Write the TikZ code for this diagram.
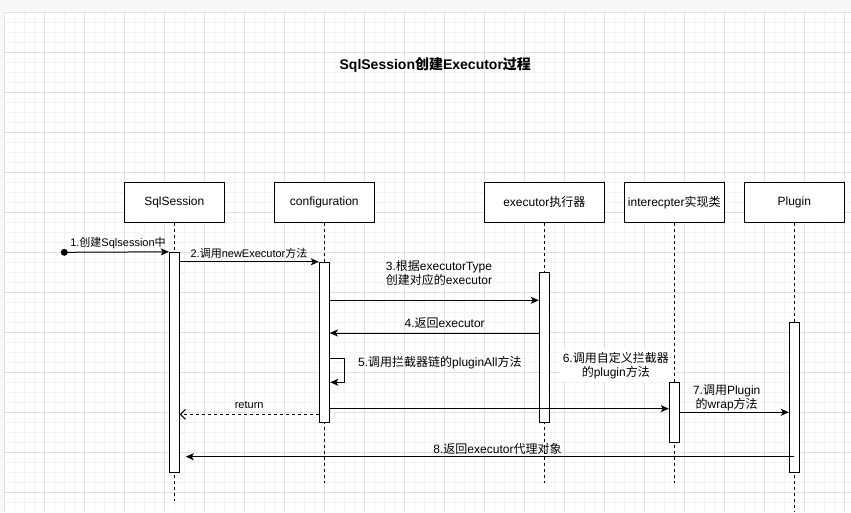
\documentclass[tikz,border=0pt]{standalone}
\usepackage{fontspec}
\setmainfont{Liberation Sans}
\newfontfamily\cjk{Noto Sans CJK SC}
\newcommand{\zh}[1]{{\cjk #1}}
\usetikzlibrary{arrows.meta}
\definecolor{gridmajor}{HTML}{E0E0E0}
\definecolor{gridminor}{HTML}{F2F2F2}
\definecolor{edgegray}{HTML}{F7F7F7}

\begin{document}
\begin{tikzpicture}[x=1pt,y=-1pt,
  head/.style={draw,line width=1pt,fill=white,minimum width=100pt,minimum height=40pt,inner sep=0pt,font=\fontsize{12}{14}\selectfont},
  bar/.style={draw,fill=white,line width=1pt,minimum width=10pt,inner sep=0pt},
  life/.style={line width=1pt,dash pattern=on 3pt off 3pt},
  msg/.style={line width=1pt,-{Stealth[length=8pt,width=7pt,inset=2pt]}},
  ret/.style={line width=1pt,dash pattern=on 3pt off 3pt,-{Straight Barb[length=5pt,width=10pt]}},
  lbl/.style={font=\fontsize{12}{14}\selectfont,inner sep=1pt,align=center},
  lblsmall/.style={lbl,font=\fontsize{11}{13}\selectfont}]
\useasboundingbox (0,0) rectangle (851,512);
% background grid
\fill[white] (0,0) rectangle (851,512);
\fill[edgegray] (0,0) rectangle (851,11);
\fill[edgegray] (0,0) rectangle (4,512);
\foreach \i in {0,...,84} \draw[gridminor,line width=1pt] (4.3+10*\i,12.3) -- (4.3+10*\i,512);
\foreach \j in {0,...,49} \draw[gridminor,line width=1pt] (4.3,12.3+10*\j) -- (851,12.3+10*\j);
\foreach \i in {0,...,21} \draw[gridmajor,line width=1pt] (4.3+40*\i,12.3) -- (4.3+40*\i,512);
\foreach \j in {0,...,12} \draw[gridmajor,line width=1pt] (4.3,12.3+40*\j) -- (851,12.3+40*\j);

\node[font=\fontsize{14}{16}\selectfont\bfseries] (title) at (435.3,65) {SqlSession\zh{创建}Executor\zh{过程}};

% lifelines
\node[head] (ss) at (174.3,202.3) {SqlSession};
\node[head] (cfg) at (324.3,202.3) {configuration};
\node[head,minimum width=120pt] (exe) at (544.3,202.3) {executor\zh{执行器}};
\node[head] (itc) at (674.3,202.3) {interecpter\zh{实现类}};
\node[head] (plg) at (794.3,202.3) {Plugin};
\coordinate (ssend) at (174.3,501);
\coordinate (cfgend) at (324.3,483);
\coordinate (exeend) at (544.3,483);
\coordinate (itcend) at (674.3,483);
\coordinate (plgend) at (794.3,512);
\draw[life] (ss) -- (ssend);
\draw[life] (cfg) -- (cfgend);
\draw[life] (exe) -- (exeend);
\draw[life] (itc) -- (itcend);
\draw[life] (plg) -- (plgend);

% activation bars
\node[bar,minimum height=220pt] (ssbar) at (174.3,362.3) {};
\node[bar,minimum height=160pt] (cfgbar) at (324.3,342.3) {};
\node[bar,minimum height=150pt] (exebar) at (544.3,347.3) {};
\node[bar,minimum height=60pt] (itcbar) at (674.3,412.3) {};
\node[bar,minimum height=150pt] (plgbar) at (794.3,397.3) {};

% messages
\node[circle,fill,inner sep=0pt,minimum size=7pt] (st) at (64.3,252.3) {};
\draw[msg] (st.center) -- (ssbar.north west);
\node[lblsmall] (l1) at (118,242.7) {1.\zh{创建}Sqlsession\zh{中}};

\draw[msg] (ssbar.east |- cfgbar.north) -- (cfgbar.north west);
\node[lblsmall] (l2) at (249,253.3) {2.\zh{调用}newExecutor\zh{方法}};

\draw[msg] (cfgbar.east |- 0,300.3) -- (exebar.west |- 0,300.3);
\node[lbl] (l3) at (439,273.4) {3.\zh{根据}executorType\\\zh{创建对应的}executor};

\draw[msg] (exebar.west |- 0,333) -- (cfgbar.east |- 0,333);
\node[lbl] (l4) at (444.7,322.7) {4.\zh{返回}executor};

\draw[msg] (cfgbar.east |- 0,358.3) -- (344.3,358.3) -- (344.3,382.3) -- (330.3,382.3);
\node[lbl,anchor=west] (l5) at (357,362.3) {5.\zh{调用拦截器链的}pluginAll\zh{方法}};

\draw[msg] (cfgbar.east |- 0,408.7) -- (itcbar.west |- 0,408.7);
\node[lbl,fill=white,inner sep=3pt] (l6) at (615.8,365.5) {6.\zh{调用自定义拦截器}\\\zh{的}plugin\zh{方法}};

\draw[msg] (itcbar.east |- 0,412.3) -- (plgbar.west |- 0,412.3);
\node[lbl] (l7) at (726.7,397.8) {7.\zh{调用}Plugin\\\zh{的}wrap\zh{方法}};

\draw[ret] (cfgbar.west |- 0,414.3) -- (ssbar.east |- 0,414.3);
\node[lblsmall] (lr) at (249.2,405.3) {return};

\draw[msg,shorten >=6pt] (plgbar.center |- 0,456.7) -- (ssbar.east |- 0,456.7);
\node[lbl] (l8) at (497.5,449) {8.\zh{返回}executor\zh{代理对象}};
\end{tikzpicture}
\end{document}
